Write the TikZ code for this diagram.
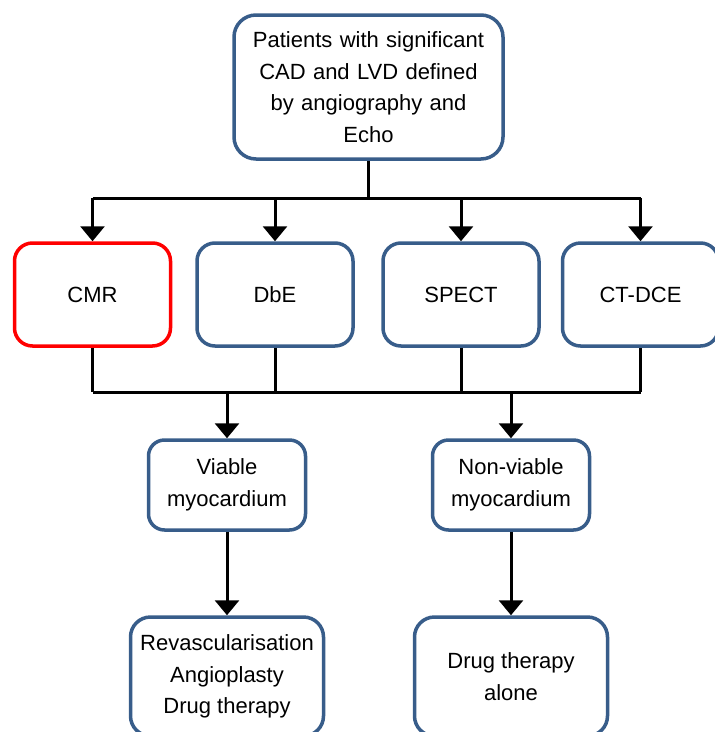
\documentclass[tikz,border=0pt]{standalone}
\usepackage{fontspec}
\setmainfont{Liberation Sans}
\usepackage{xcolor}
\usepackage{tikz}
\usetikzlibrary{arrows.meta, positioning, calc}
\definecolor{boxblue}{RGB}{56,93,138}
\definecolor{cmrred}{RGB}{255,0,0}
\tikzstyle{startbox} = [rectangle, rounded corners=22pt, minimum width=269pt, minimum height=144pt, text width=262pt, align=center, draw=boxblue, line width=3.5pt, fill=white]
\tikzstyle{method} = [rectangle, rounded corners=18pt, minimum width=156pt, minimum height=103pt, align=center, draw=boxblue, line width=3.5pt, fill=white]
\tikzstyle{cmrbox} = [method, draw=cmrred]
\tikzstyle{outcome} = [rectangle, rounded corners=16pt, minimum width=157pt, minimum height=90pt, align=center, draw=boxblue, line width=3.5pt, fill=white]
\tikzstyle{therapy} = [rectangle, rounded corners=20pt, minimum width=193pt, minimum height=119pt, align=center, draw=boxblue, line width=3.5pt, fill=white]
\tikzstyle{line} = [line width=3pt, black]
\tikzstyle{arrow} = [line width=3pt, -{Triangle[width=24pt,length=15pt]}, black]

\begin{document}
\begin{tikzpicture}[x=1pt, y=1pt, node distance=207.5pt, every node/.style={font=\fontsize{22}{31.5}\selectfont}]
        \useasboundingbox (0,0) rectangle (715,-732);
        \node (patients) [startbox] at (368.5,-87) {Patients with significant\\CAD and LVD defined\\by angiography and\\Echo};
        \node (cmr) [cmrbox, below of=patients, xshift=-276pt] {CMR};
        \node (dbe) [method, below of=patients, xshift=-93.5pt] {DbE};
        \node (spect) [method, below of=patients, xshift=92.5pt] {SPECT};
        \node (ctdce) [method, below of=patients, xshift=272pt] {CT-DCE};
        \node (viable) [outcome, below of=dbe, xshift=-48pt, yshift=17pt] {Viable\\myocardium};
        \node (nonviable) [outcome, below of=spect, xshift=50pt, yshift=17pt] {Non-viable\\myocardium};
        \node (revasc) [therapy, below of=viable, yshift=16pt] {Revascularisation\\Angioplasty\\Drug therapy};
        \node (alone) [therapy, below of=nonviable, yshift=16pt] {Drug therapy\\alone};

        % forks above and below the four imaging boxes
        \coordinate (fork) at (368.5,-198);
        \coordinate (join) at (368.5,-392);

        \draw [line] (patients) -- (fork);
        \draw [line] (cmr.north |- fork) -- (ctdce.north |- fork);
        \foreach \m in {cmr, dbe, spect, ctdce}
            \draw [arrow] (\m.north |- fork) -- (\m.north);

        \foreach \m in {cmr, dbe, spect, ctdce}
            \draw [line] (\m.south) -- (\m.south |- join);
        \draw [line] (cmr.south |- join) -- (ctdce.south |- join);
        \draw [arrow] (viable.north |- join) -- (viable.north);
        \draw [arrow] (nonviable.north |- join) -- (nonviable.north);

        \draw [arrow] (viable) -- (revasc);
        \draw [arrow] (nonviable) -- (alone);
    \end{tikzpicture}
\end{document}
